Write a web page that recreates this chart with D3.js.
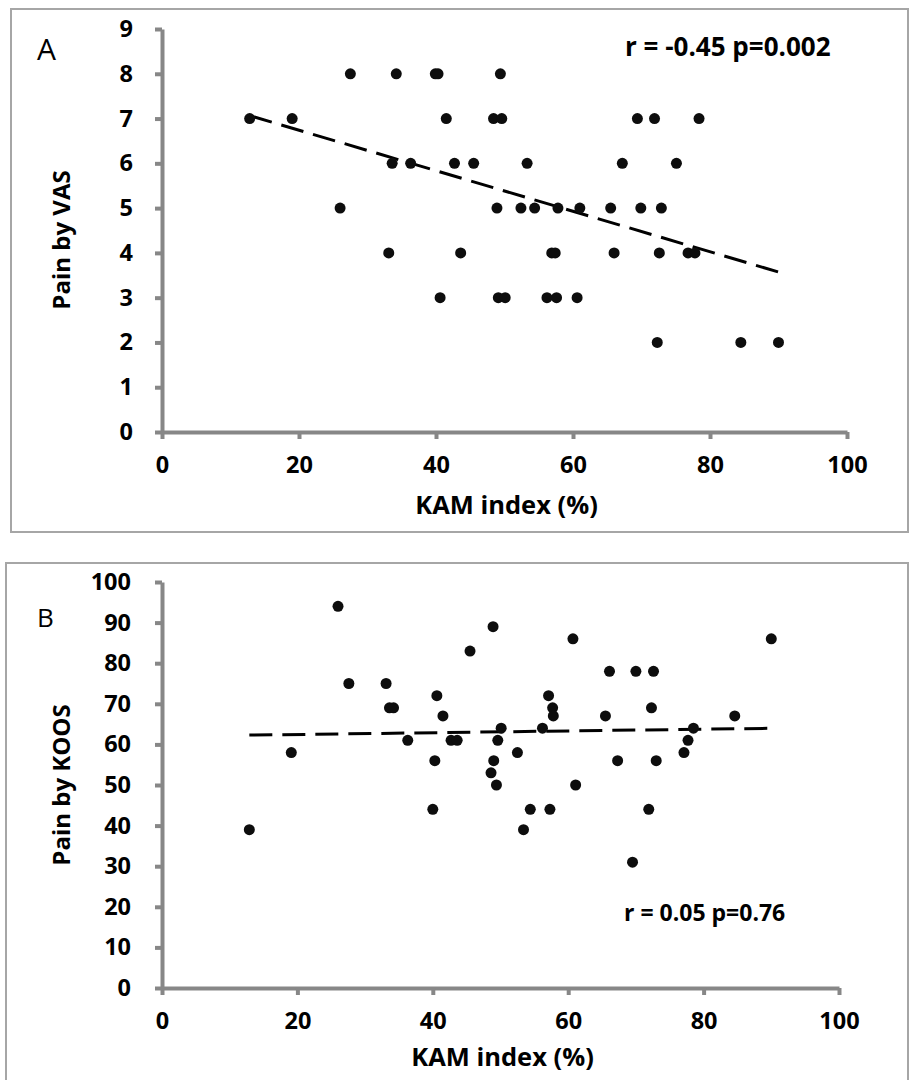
<!DOCTYPE html>
<html>
<head>
<meta charset="utf-8">
<script src="https://cdn.jsdelivr.net/npm/d3@7"></script>
<style>
  body { margin: 0; background: #fff; }
  svg { display: block; }
  text { font-family: "Open Sans", "DejaVu Sans", sans-serif; fill: #000; }
</style>
</head>
<body>
<svg id="chart" width="909" height="1080"></svg>
<script>
// KAM index (%) per subject
var kamA = [12.8, 19.0, 26.0, 27.5, 33.1, 33.6, 34.2, 36.3, 39.9, 40.3, 40.6, 41.5,
	42.7, 43.6, 45.5, 48.4, 48.9, 49.1, 49.4, 49.6, 50.1, 52.4, 53.3, 54.4, 56.2,
	56.9, 57.4, 57.6, 57.8, 60.6, 61.0, 65.5, 66.0, 67.2, 69.4, 69.9, 71.9, 72.3,
	72.6, 72.9, 75.1, 76.8, 77.8, 78.4, 84.5, 90.0];
var vas = [7, 7, 5, 8, 4, 6, 8, 6, 8, 8, 3, 7,
	6, 4, 6, 7, 5, 3, 8, 7, 3, 5, 6, 5, 3,
	4, 4, 3, 5, 3, 5, 5, 4, 6, 7, 5, 7, 2,
	4, 5, 6, 4, 4, 7, 2, 2];

// KAM index (%) per subject
var kamB = [12.9, 19.1, 26.0, 27.6, 33.1, 33.6, 34.2, 36.3, 40.0, 40.3, 40.6, 41.5,
	42.7, 43.6, 45.5, 48.6, 48.9, 49.0, 49.4, 49.6, 50.1, 52.5, 53.4, 54.4, 56.2,
	57.1, 57.3, 57.7, 57.8, 60.7, 61.1, 65.5, 66.1, 67.3, 69.5, 70.0, 71.9, 72.3,
	72.6, 73.0, 77.1, 77.7, 78.5, 84.6, 90.0];
var koos = [39, 58, 94, 75, 75, 69, 69, 61, 44, 56, 72, 67,
	61, 61, 83, 53, 89, 56, 50, 61, 64, 58, 39, 44, 64,
	72, 44, 69, 67, 86, 50, 67, 78, 56, 31, 78, 44, 69,
	78, 56, 58, 61, 64, 67, 86];

var xTicks = [0, 20, 40, 60, 80, 100];
var vasTicks = [0, 1, 2, 3, 4, 5, 6, 7, 8, 9];
var koosTicks = [0, 10, 20, 30, 40, 50, 60, 70, 80, 90, 100];

var svg = d3.select("#chart");
var axisColor = "#878787";

// least squares fit, like the Excel trendline
var fitLine = function(xs, ys) {
	var mx = d3.mean(xs), my = d3.mean(ys);
	var sxy = 0, sxx = 0;
	for (var i = 0; i < xs.length; i++) {
		sxy += (xs[i] - mx) * (ys[i] - my);
		sxx += (xs[i] - mx) * (xs[i] - mx);
	}
	var b = sxy / sxx;
	var a = my - b * mx;
	var x0 = d3.min(xs), x1 = d3.max(xs);
	return [[x0, a + b * x0], [x1, a + b * x1]];
}

var drawPanel = function(p) {
	// frame
	svg.append("rect")
		.attr("x", p.box[0]).attr("y", p.box[1])
		.attr("width", p.box[2]).attr("height", p.box[3])
		.attr("fill", "none")
		.attr("stroke", "#a6a6a6")
		.attr("stroke-width", 2);

	var x = d3.scaleLinear().domain([0, 100]).range(p.xRange);
	var y = d3.scaleLinear().domain(p.yDomain).range(p.yRange);

	var g = svg.append("g");

	// axes lines + ticks
	var yAx = g.append("g")
		.attr("transform", "translate(" + p.xRange[0] + ",0)")
		.call(d3.axisLeft(y).tickValues(p.yTicks).tickSize(7).tickPadding(p.yPad).tickSizeOuter(0));
	var xAx = g.append("g")
		.attr("transform", "translate(0," + p.yRange[0] + ")")
		.call(d3.axisBottom(x).tickValues(xTicks).tickSize(7).tickPadding(17).tickSizeOuter(0));

	[xAx, yAx].forEach(function(ax) {
		ax.select(".domain").attr("stroke", axisColor).attr("stroke-width", 4);
		ax.selectAll(".tick line").attr("stroke", axisColor).attr("stroke-width", 4);
		ax.selectAll(".tick text")
			.style("font-family", "\"Open Sans\", sans-serif")
			.attr("font-size", "23.5px")
			.attr("font-weight", "bold")
			.attr("fill", "#000");
	});

	// dashed trend
	var fit = fitLine(p.xs, p.ys);
	g.append("line")
		.attr("x1", x(fit[0][0])).attr("y1", y(fit[0][1]))
		.attr("x2", x(fit[1][0])).attr("y2", y(fit[1][1]))
		.attr("stroke", "#000")
		.attr("stroke-width", 3)
		.attr("stroke-dasharray", "23,10");

	// points
	g.selectAll("circle.pt")
		.data(p.xs.map(function(d, i) { return [d, p.ys[i]]; }))
		.enter()
		.append("circle")
			.attr("class", "pt")
			.attr("cx", d => x(d[0]))
			.attr("cy", d => y(d[1]))
			.attr("r", 5.5)
			.attr("fill", "#0d0d0d");

	// titles
	svg.append("text")
		.attr("x", (p.xRange[0] + p.xRange[1]) / 2 + 2)
		.attr("y", p.xTitleY)
		.attr("text-anchor", "middle")
		.attr("font-size", "25.5px")
		.attr("font-weight", "bold")
		.text("KAM index (%)");

	svg.append("text")
		.attr("transform", "translate(" + p.yTitle[0] + "," + p.yTitle[1] + ") rotate(-90)")
		.attr("text-anchor", "middle")
		.attr("font-size", "24px")
		.attr("font-weight", "bold")
		.text(p.yLabel);

	svg.append("text")
		.attr("x", p.letterPos[0]).attr("y", p.letterPos[1])
		.attr("font-size", p.letterSize)
		.text(p.letter);

	svg.append("text")
		.attr("x", p.statPos[0]).attr("y", p.statPos[1])
		.attr("font-size", p.statSize)
		.attr("font-weight", "bold")
		.text(p.stat);
}

drawPanel({
	box: [11, 9, 897, 523],
	xRange: [162, 847],
	yDomain: [0, 9],
	yRange: [432, 29],
	yTicks: vasTicks,
	yPad: 22,
	xs: kamA, ys: vas,
	xTitleY: 514,
	yTitle: [70, 240],
	yLabel: "Pain by VAS",
	letter: "A", letterPos: [37, 60], letterSize: "30px",
	stat: "r = -0.45 p=0.002", statPos: [625, 56], statSize: "26px"
});

drawPanel({
	box: [6, 563, 902, 530],
	xRange: [162, 839],
	yDomain: [0, 100],
	yRange: [988, 582],
	yTicks: koosTicks,
	yPad: 24,
	xs: kamB, ys: koos,
	xTitleY: 1066,
	yTitle: [70, 785],
	yLabel: "Pain by KOOS",
	letter: "B", letterPos: [37, 627], letterSize: "26px",
	stat: "r = 0.05 p=0.76", statPos: [624, 921], statSize: "23px"
});
</script>
</body>
</html>
